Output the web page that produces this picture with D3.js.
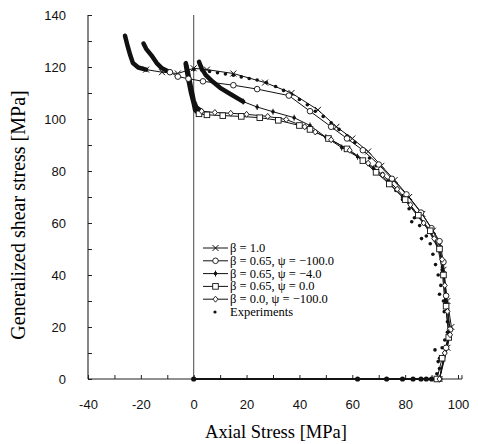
<!DOCTYPE html>
<html>
<head>
<meta charset="utf-8">
<script src="https://cdn.jsdelivr.net/npm/d3@7"></script>
<style>
  body { margin: 0; background: #fff; }
  svg { font-family: "Liberation Serif", "DejaVu Serif", serif; }
  .axis text { font-size: 13px; fill: #111; }
  .axis line, .axis path { stroke: #222; }
</style>
</head>
<body>
<svg id="chart" width="478" height="444"></svg>
<script>
// ---- data (axial stress, generalized shear stress) ----
const legendLabels = ["β = 1.0", "β = 0.65, ψ = −100.0", "β = 0.65, ψ = −4.0",
  "β = 0.65, ψ = 0.0", "β = 0.0, ψ = −100.0", "Experiments"];

const xTicks = [-40, -30, -20, -10, 0, 10, 20, 30, 40, 50, 60, 70, 80, 90, 100];
const yTicks = [0, 10, 20, 30, 40, 50, 60, 70, 80, 90, 100, 110, 120, 130, 140];

const beta10 = [[0,0],[93,0],[96,12],[97.5,20],[96,30],[94.5,42],[93,52],[90.5,57],[86.5,63.5],
  [81.5,70],[76,76.5],[71,82],[66,87.5],[60,92.5],[54,97],[47,103.5],[37,110],[27,114],
  [15,117.5],[5,119],[0,119.5],[-6,117.5],[-12,118],[-18,119]];
const beta10Tail = [[-18,119],[-21,119.8],[-23,121.5],[-24,124.5],[-25,128],[-26,132]];

const psi100 = [[0,0],[93,0],[95.5,12],[97,19],[95.5,32],[94.5,45],[93,53],[90,58],[86,64],
  [80.5,71],[75,77],[70,82.5],[64,88],[58,92.5],[52,97],[44,103],[36,109],[24,111.5],[15,113],
  [3.5,114.5],[-2,115.5],[-6,116.3],[-9,118]];
const psi100Tail = [[-9,118],[-12,119.5],[-14,121.5],[-16,124.5],[-18,127],[-19,129]];

const psi4 = [[0,0],[93,0],[95,10],[96.5,18],[95,30],[94,42],[92.5,50],[89,57],[84.5,63],
  [79,70],[73.5,76],[68,81],[62,85.5],[56,89],[50,93],[44,97.5],[38,100.5],[30,102.8],
  [24,104.6],[18.7,106.7]];
const psi4Tail = [[18.7,106.7],[14,109.5],[10,112],[7,114.5],[4.5,117],[3,119.5],[2,122]];

const psi0 = [[0,0],[92,0],[94,8],[96.5,16],[95.5,28],[94.5,40],[93,50],[89.5,57],[85,63],
  [80,69],[74,75],[69,79.5],[64,84],[58,88.5],[51,92.5],[44,96],[40,97.5],[32,99.5],[25,100.5],
  [18,101],[11,101.3],[5,101.6],[2,102]];
const psi0Tail = [[2,102],[0.5,103.5],[0,106],[-1,110],[-1.8,114],[-2.5,118],[-3,121]];

const beta0 = [[0,0],[93,0],[95,10],[97,17],[96,26],[95,36],[94,46],[91,54],[87,60],[82,67],
  [77,73],[71.5,78.5],[66,83],[59,88],[52,92],[46,95],[42,97],[35,99.8],[28,101],[20,101.8],
  [14,102.2],[8,102.5],[3,103]];
const beta0Tail = [[3,103],[1,104.5],[0,107],[-0.8,111],[-1.6,115],[-2.3,118.5],[-3,121.5]];

const experiments = [[0,0],[62,0],[73,0],[79,0],[83,0],[86,0],[88,0],[90,0],[92,0],
  [92,2],[93,4],[92.5,6.7],[93,8],[91.3,11.2],[94,12],[95,15],[96,18],[96,22],[94.8,25.9],
  [94.5,30],[93,32.6],[93.5,36],[92.5,40],[91.5,44],[90.5,48],[89.5,52],[86.2,54],[88,55],
  [85.5,59],[82.5,60.5],[83.5,62],[81.5,65.5],[79,69],[76.5,72.5],[74,76],[71.5,79],[69,82],
  [66.5,85],[64,88],[61,91],[58,93.5],[55,96],[52,98.5],[49,101],[46,103],[43,105.5],
  [40,107.5],[37,109.5],[34,111],[31,112.5],[27.5,114],[24,115],[21,115.6],[18,116.2],
  [15,116.8],[12,117.3],[9,117.8],[6,118.3],[3,118.8],[0,119]];

const series = [
  { pts: beta10, tail: beta10Tail, mark: "cross" },
  { pts: psi100, tail: psi100Tail, mark: "circle" },
  { pts: psi4,   tail: psi4Tail,   mark: "plus" },
  { pts: psi0,   tail: psi0Tail,   mark: "square" },
  { pts: beta0,  tail: beta0Tail,  mark: "diamond" }
];

// ---- layout ----
const svg = d3.select("#chart");
const x = d3.scaleLinear().domain([-40, 100]).range([88, 458]);
const y = d3.scaleLinear().domain([0, 140]).range([379, 15]);

const line = d3.line().x(d => x(d[0])).y(d => y(d[1]));

function drawMark(g, type, cx, cy) {
  if (type === "cross") {
    g.append("path").attr("d", `M${cx-3},${cy-3}L${cx+3},${cy+3}M${cx-3},${cy+3}L${cx+3},${cy-3}`)
      .attr("stroke", "#111").attr("stroke-width", 1);
  } else if (type === "circle") {
    g.append("circle").attr("cx", cx).attr("cy", cy).attr("r", 2.8)
      .attr("fill", "#fff").attr("stroke", "#111").attr("stroke-width", 0.9);
  } else if (type === "plus") {
    g.append("path").attr("d", `M${cx},${cy-3}L${cx},${cy+3}`).attr("stroke", "#111").attr("stroke-width", 1);
    g.append("circle").attr("cx", cx).attr("cy", cy).attr("r", 1.8).attr("fill", "#111");
  } else if (type === "square") {
    g.append("rect").attr("x", cx-2.8).attr("y", cy-2.8).attr("width", 5.6).attr("height", 5.6)
      .attr("fill", "#fff").attr("stroke", "#111").attr("stroke-width", 0.9);
  } else if (type === "diamond") {
    g.append("path").attr("d", `M${cx},${cy-3}L${cx+2.5},${cy}L${cx},${cy+3}L${cx-2.5},${cy}Z`)
      .attr("fill", "#fff").attr("stroke", "#111").attr("stroke-width", 0.9);
  }
}

// ---- axes ----
svg.append("g").attr("class", "axis")
  .attr("transform", `translate(0,${y(0)})`)
  .call(d3.axisBottom(x).tickValues(xTicks).tickSize(-4).tickPadding(21)
    .tickFormat(d => d % 20 === 0 ? String(d) : ""))
  .call(g => g.select(".domain").remove());

svg.append("g").attr("class", "axis")
  .attr("transform", `translate(${x(-40)},0)`)
  .call(d3.axisLeft(y).tickValues(yTicks).tickSize(-4).tickPadding(22)
    .tickFormat(d => d % 20 === 0 ? String(d) : ""))
  .call(g => g.select(".domain").remove());

// axis lines
svg.append("line").attr("x1", x(-40)).attr("x2", x(101.5)).attr("y1", y(0)).attr("y2", y(0))
  .attr("stroke", "#222").attr("stroke-width", 1.1);
svg.append("line").attr("x1", x(101.5)).attr("x2", x(101.5)).attr("y1", y(0)).attr("y2", y(1.5))
  .attr("stroke", "#222");
svg.append("line").attr("x1", x(-40)).attr("x2", x(-40)).attr("y1", y(0)).attr("y2", y(140))
  .attr("stroke", "#222").attr("stroke-width", 1.1);
svg.append("line").attr("x1", x(0)).attr("x2", x(0)).attr("y1", y(0)).attr("y2", y(140))
  .attr("stroke", "#333").attr("stroke-width", 0.9);

// titles
svg.append("text").attr("x", 276).attr("y", 438).attr("text-anchor", "middle")
  .attr("font-size", 18.5).text("Axial Stress [MPa]");
svg.append("text").attr("transform", "translate(25,215) rotate(-90)").attr("text-anchor", "middle")
  .attr("font-size", 20).text("Generalized shear stress [MPa]");

// ---- curves ----
const plot = svg.append("g");
series.forEach(s => {
  plot.append("path").attr("d", line(s.pts)).attr("fill", "none")
    .attr("stroke", "#111").attr("stroke-width", 1);
  plot.append("path").attr("d", line(s.tail)).attr("fill", "none")
    .attr("stroke", "#111").attr("stroke-width", 4.5).attr("stroke-linecap", "round")
    .attr("stroke-linejoin", "round");
});

plot.selectAll("circle.exp").data(experiments).join("circle").attr("class", "exp")
  .attr("cx", d => x(d[0])).attr("cy", d => y(d[1])).attr("r", d => d[1] === 0 ? 2.6 : 1.8)
  .attr("fill", "#111");

series.forEach(s => {
  const g = plot.append("g");
  s.pts.slice(1).forEach(p => drawMark(g, s.mark, x(p[0]), y(p[1])));
});

// ---- legend ----
const legend = svg.append("g");
legendLabels.forEach((lab, i) => {
  const cy = 248 + i * 12.8;
  const g = legend.append("g");
  if (i < 5) {
    g.append("line").attr("x1", 203).attr("x2", 228).attr("y1", cy).attr("y2", cy)
      .attr("stroke", "#111").attr("stroke-width", 1);
    drawMark(g, series[i].mark, 215.5, cy);
  } else {
    g.append("circle").attr("cx", 215).attr("cy", cy).attr("r", 1.6).attr("fill", "#111");
  }
  g.append("text").attr("x", 230).attr("y", cy + 4).attr("font-size", 12.5).text(lab);
});
</script>
</body>
</html>
